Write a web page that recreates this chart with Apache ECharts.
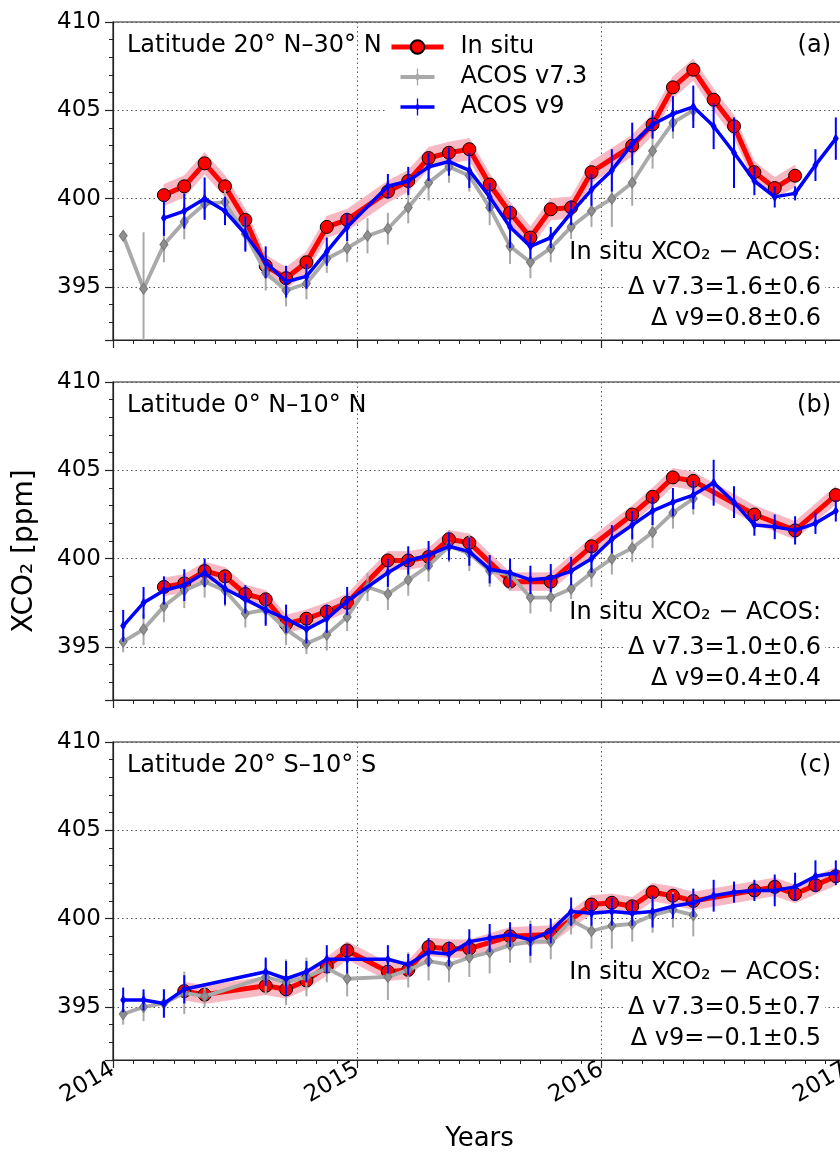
<!DOCTYPE html>
<html>
<head>
<meta charset="utf-8">
<script src="https://cdn.jsdelivr.net/npm/echarts/dist/echarts.min.js"></script>
<style>
  html, body { margin: 0; background: #fff; }
  #chart { width: 840px; height: 1152px; }
</style>
</head>
<body>
<div id="chart"></div>
<script>
// month index: 0 = Jan 2014, points sit in the middle of the month
var panelTitles = ['Latitude 20° N–30° N', 'Latitude 0° N–10° N', 'Latitude 20° S–10° S'];
var panelTags = ['(a)', '(b)', '(c)'];
var deltaV73 = ['Δ v7.3=1.6±0.6', 'Δ v7.3=1.0±0.6', 'Δ v7.3=0.5±0.7'];
var deltaV9 = ['Δ v9=0.8±0.6', 'Δ v9=0.4±0.4', 'Δ v9=−0.1±0.5'];
var bandHalf = [0.6, 0.5, 0.5];
var yearTicks = [2014, 2015, 2016, 2017];

// (a) 20N-30N
var insituMonthsA = [2, 3, 4, 5, 6, 7, 8, 9, 10, 11, 13, 14, 15, 16, 17, 18, 19, 20, 21, 22, 23, 25, 26, 27, 28, 29, 30, 31, 32, 33];
var insituA = [400.2, 400.7, 402.0, 400.7, 398.8, 396.2, 395.5, 396.4, 398.4, 398.8,
  400.4, 401.0, 402.3, 402.6, 402.8, 400.8, 399.2, 397.8, 399.4, 399.5, 401.5,
  403.0, 404.2, 406.3, 407.3, 405.6, 404.1, 401.5, 400.6, 401.3];
var v73MonthsA = [0, 1, 2, 3, 4, 5, 6, 7, 8, 9, 10, 11, 12, 13, 14, 15, 16, 17, 18, 19, 20, 21, 22, 23, 24, 25, 26, 27, 28];
var v73A = [397.9, 394.9, 397.4, 398.7, 399.7, 399.8, 398.0, 395.8, 394.8, 395.2, 396.6, 397.2,
  397.9, 398.3, 399.5, 400.9, 401.8, 401.3, 399.5, 397.3, 396.4, 397.2, 398.4, 399.3,
  400.0, 400.9, 402.7, 404.3, 405.0];
var v73ErrA = [0, 3.2, 1.0, 1.0, 0.8, 0.7, 0.9, 1.0, 0.9, 0.9, 0.8, 0.8,
  1.0, 0.9, 0.9, 1.0, 0.9, 0.9, 1.0, 1.0, 0.9, 0.8, 0.8, 0.9,
  1.6, 1.3, 1.0, 0.9, 0.6];
var v9MonthsA = [2, 3, 4, 5, 6, 7, 8, 9, 10, 11, 13, 14, 15, 16, 17, 18, 19, 20, 21, 22, 23,
  24, 25, 26, 27, 28, 29, 30, 31, 32, 33, 34, 35];
var v9A = [398.9, 399.3, 400.0, 399.3, 398.0, 396.4, 395.3, 395.6, 397.0, 398.4,
  400.7, 401.0, 401.8, 402.1, 401.6, 400.1, 398.4, 397.3, 397.8, 399.2, 400.5,
  401.6, 403.1, 404.2, 404.8, 405.2, 404.1, 402.6, 401.0, 400.1, 400.3, 401.9, 403.4];
var v9ErrA = [1.0, 1.0, 1.2, 0.8, 1.0, 0.9, 0.9, 0.7, 0.8, 0.8,
  0.7, 0.8, 0.8, 0.8, 1.0, 0.8, 1.2, 0.7, 0.6, 0.7, 0.9,
  1.2, 1.2, 0.8, 1.0, 1.2, 1.3, 2.0, 0.8, 0.6, 0.4, 0.9, 1.2];

// (b) 0N-10N
var insituMonthsB = [2, 3, 4, 5, 6, 7, 8, 9, 10, 11, 13, 14, 15, 16, 17, 19, 21, 23, 25, 26, 27, 28, 31, 33, 35];
var insituB = [398.4, 398.6, 399.3, 399.0, 398.0, 397.7, 396.3, 396.6, 397.0, 397.5,
  399.9, 399.9, 400.1, 401.1, 400.9, 398.7, 398.7, 400.7,
  402.5, 403.5, 404.6, 404.4, 402.5, 401.6, 403.6];
var v73MonthsB = [0, 1, 2, 3, 4, 5, 6, 7, 8, 9, 10, 11, 12, 13, 14, 15, 16, 17, 18, 19, 20, 21, 22, 23, 24, 25, 26, 27, 28];
var v73B = [395.3, 396.0, 397.3, 398.2, 398.7, 398.2, 396.9, 397.1, 396.0, 395.2, 395.7, 396.7,
  398.4, 398.0, 398.8, 399.6, 400.7, 400.3, 399.3, 399.1, 397.8, 397.8, 398.3, 399.2,
  400.0, 400.6, 401.5, 402.6, 403.4];
var v73ErrB = [0.6, 0.9, 0.9, 1.0, 0.9, 0.9, 0.8, 0.8, 0.9, 0.6, 0.9, 0.8,
  0.8, 0.9, 0.9, 0.9, 0.9, 1.0, 0.9, 0.9, 0.9, 0.8, 0.8, 0.8,
  0.9, 0.8, 0.9, 0.9, 0.9];
var v9MonthsB = [0, 1, 2, 3, 4, 5, 6, 7, 8, 9, 10, 11, 13, 14, 15, 16, 17, 18, 19, 20, 21, 22, 23,
  24, 25, 26, 27, 28, 29, 30, 31, 32, 33, 34, 35];
var v9B = [396.2, 397.5, 398.2, 398.5, 399.2, 398.3, 397.7, 397.1, 396.6, 396.0, 396.6, 397.6,
  399.2, 399.9, 400.2, 400.7, 400.4, 399.4, 399.2, 398.8, 398.9, 399.3, 400.0,
  401.1, 401.9, 402.7, 403.2, 403.6, 404.3, 403.2, 401.9, 401.8, 401.6, 402.0, 402.7];
var v9ErrB = [0.9, 0.9, 0.8, 0.9, 0.8, 0.9, 0.8, 0.9, 0.8, 0.8, 0.8, 0.8,
  0.8, 0.8, 0.8, 0.8, 0.8, 0.8, 0.8, 0.8, 0.8, 0.8, 0.8,
  0.8, 0.8, 0.8, 0.8, 0.8, 1.3, 0.9, 0.6, 0.7, 0.8, 0.6, 0.6];

// (c) 20S-10S
var insituMonthsC = [3, 4, 7, 8, 9, 10, 11, 13, 14, 15, 16, 17, 19, 21, 23, 24, 25, 26, 27, 28, 31, 32, 33, 34, 35];
var insituC = [395.9, 395.7, 396.2, 396.0, 396.5, 397.3, 398.2,
  397.0, 397.1, 398.4, 398.3, 398.3, 399.0, 399.1, 400.8,
  400.9, 400.7, 401.5, 401.3, 401.0, 401.6, 401.8, 401.4, 401.9, 402.4];
var v73MonthsC = [0, 1, 2, 3, 4, 7, 8, 9, 10, 11, 13, 14, 15, 16, 17, 18, 19, 20, 21, 22, 23, 24, 25, 26, 27, 28];
var v73C = [394.6, 395.0, 395.2, 395.8, 395.6, 396.7, 396.4, 396.7, 397.2, 396.6,
  396.7, 397.1, 397.6, 397.4, 397.8, 398.1, 398.5, 398.7, 398.7, 399.9, 399.3,
  399.6, 399.7, 400.2, 400.5, 400.2];
var v73ErrC = [0.6, 0.8, 0.8, 1.2, 0.6, 1.0, 1.3, 1.1, 0.8, 1.0,
  1.3, 1.0, 1.1, 1.0, 1.1, 1.2, 1.0, 1.2, 1.0, 0.8, 1.0,
  1.3, 1.0, 1.0, 1.0, 1.2];
var v9MonthsC = [0, 1, 2, 3, 7, 8, 9, 10, 11, 13, 14, 15, 16, 17, 18, 19, 20, 21, 22, 23,
  24, 25, 26, 27, 28, 29, 30, 31, 32, 33, 34, 35];
var v9C = [395.4, 395.4, 395.2, 396.0, 397.0, 396.6, 397.0, 397.7, 397.7,
  397.7, 397.4, 398.1, 398.0, 398.7, 398.9, 399.1, 398.8, 399.3, 400.4, 400.3,
  400.4, 400.3, 400.4, 400.7, 400.9, 401.3, 401.5, 401.6, 401.6, 401.8, 402.4, 402.6];
var v9ErrC = [0.7, 0.6, 0.8, 0.8, 0.8, 1.0, 0.6, 0.8, 0.8,
  0.8, 0.6, 0.8, 0.7, 0.7, 0.8, 0.7, 0.9, 0.7, 0.8, 0.7,
  0.8, 0.7, 0.9, 0.7, 0.8, 0.9, 0.6, 0.6, 0.9, 0.8, 0.9, 0.7];

var panels = [
  {insM: insituMonthsA, ins: insituA, gM: v73MonthsA, g: v73A, gE: v73ErrA, bM: v9MonthsA, b: v9A, bE: v9ErrA},
  {insM: insituMonthsB, ins: insituB, gM: v73MonthsB, g: v73B, gE: v73ErrB, bM: v9MonthsB, b: v9B, bE: v9ErrB},
  {insM: insituMonthsC, ins: insituC, gM: v73MonthsC, g: v73C, gE: v73ErrC, bM: v9MonthsC, b: v9C, bE: v9ErrC}
];

var FONT = 'DejaVu Sans';
var gridTops = [22, 382, 742];
var GRID_H = 318;
var GRID_L = 113;
var GRID_W = 733;
var RED = '#ff0000', GRAY = '#a9a9a9', BLUE = '#0000ff', PINK = '#f8b8c3';

function yr(m) { return 2014 + (m + 0.5) / 12; }
function pts(months, vals) {
  return months.map(function (m, i) { return [yr(m), vals[i]]; });
}
function errs(months, vals, e) {
  return months.map(function (m, i) { return [yr(m), vals[i] - e[i], vals[i] + e[i]]; });
}
// one band segment per pair of neighbouring in situ points
function bandSegs(months, vals, h) {
  var out = [];
  for (var i = 0; i < months.length - 1; i++) {
    out.push([yr(months[i]), vals[i] - h, vals[i] + h, yr(months[i + 1]), vals[i + 1] - h, vals[i + 1] + h]);
  }
  return out;
}
function bandRender(params, api) {
  var pts4 = [
    api.coord([api.value(0), api.value(1)]),
    api.coord([api.value(3), api.value(4)]),
    api.coord([api.value(3), api.value(5)]),
    api.coord([api.value(0), api.value(2)])
  ];
  return {type: 'polygon', shape: {points: pts4}, style: {fill: PINK, stroke: PINK, lineWidth: 0.8}};
}
function errRender(color) {
  return function (params, api) {
    var lo = api.coord([api.value(0), api.value(1)]);
    var hi = api.coord([api.value(0), api.value(2)]);
    return {
      type: 'line',
      shape: {x1: lo[0], y1: lo[1], x2: hi[0], y2: hi[1]},
      style: {stroke: color, lineWidth: 2}
    };
  };
}

var grids = [], xAxes = [], yAxes = [], series = [], graphics = [];
var dotted = {color: '#555', width: 1, type: [1.5, 3]};

panels.forEach(function (p, i) {
  var last = i === panels.length - 1;
  grids.push({left: GRID_L, top: gridTops[i], width: GRID_W, height: GRID_H, outerBoundsMode: 'none',
    containLabel: false, show: true, borderColor: '#222', borderWidth: 1.2, backgroundColor: 'transparent'});
  xAxes.push({
    type: 'value', gridIndex: i, min: yearTicks[0], max: yearTicks[yearTicks.length - 1], interval: 1,
    axisLine: {lineStyle: {color: '#222', width: 1.2}},
    axisTick: {length: 8, lineStyle: {color: '#222', width: 1.2}},
    minorTick: {show: true, splitNumber: 12, length: 4, lineStyle: {color: '#222', width: 1}},
    splitLine: {show: true, lineStyle: dotted},
    axisLabel: {show: last, rotate: 30, margin: 8, fontSize: 23, fontFamily: FONT, color: '#000',
      formatter: function (v) { return String(Math.round(v)); }},
    name: last ? 'Years' : '', nameLocation: 'middle', nameGap: 66,
    nameTextStyle: {fontSize: 26, fontFamily: FONT, color: '#000'}
  });
  yAxes.push({
    type: 'value', gridIndex: i, min: 392, max: 410, splitNumber: 4,
    axisLine: {show: true, lineStyle: {color: '#222', width: 1.2}},
    axisTick: {show: true, length: 8, lineStyle: {color: '#222', width: 1.2}},
    minorTick: {show: true, splitNumber: 5, length: 4, lineStyle: {color: '#222', width: 1}},
    splitLine: {show: true, lineStyle: dotted},
    axisLabel: {showMinLabel: false, margin: 12, fontSize: 23, fontFamily: FONT, color: '#000'}
  });

  series.push({
    type: 'custom', xAxisIndex: i, yAxisIndex: i, clip: true, silent: true,
    encode: {x: [0, 3], y: [1, 2, 4, 5]}, data: bandSegs(p.insM, p.ins, bandHalf[i]),
    renderItem: bandRender, z: 1
  });
  series.push({
    name: 'In situ', type: 'line', xAxisIndex: i, yAxisIndex: i,
    data: pts(p.insM, p.ins), symbol: 'circle', symbolSize: 13,
    lineStyle: {color: RED, width: 5}, itemStyle: {color: RED, borderColor: '#000', borderWidth: 1}, z: 3
  });
  series.push({
    type: 'custom', xAxisIndex: i, yAxisIndex: i, clip: true, silent: true,
    encode: {x: 0, y: [1, 2]}, data: errs(p.gM, p.g, p.gE), renderItem: errRender(GRAY), z: 4
  });
  series.push({
    name: 'ACOS v7.3', type: 'line', xAxisIndex: i, yAxisIndex: i,
    data: pts(p.gM, p.g), symbol: 'diamond', symbolSize: [8, 11],
    lineStyle: {color: GRAY, width: 3.8}, itemStyle: {color: '#8f8f8f', borderColor: '#777', borderWidth: 1}, z: 5
  });
  series.push({
    type: 'custom', xAxisIndex: i, yAxisIndex: i, clip: true, silent: true,
    encode: {x: 0, y: [1, 2]}, data: errs(p.bM, p.b, p.bE), renderItem: errRender(BLUE), z: 6
  });
  series.push({
    name: 'ACOS v9', type: 'line', xAxisIndex: i, yAxisIndex: i,
    data: pts(p.bM, p.b), symbol: 'diamond', symbolSize: [6, 10],
    lineStyle: {color: BLUE, width: 3.5}, itemStyle: {color: BLUE}, z: 7
  });

  var top = gridTops[i];
  var txt = {fontSize: 24, fontFamily: FONT, fill: '#000'};
  graphics.push({type: 'text', x: 127, y: top + 24, z: 100,
    style: Object.assign({text: panelTitles[i], align: 'left', verticalAlign: 'middle'}, txt)});
  graphics.push({type: 'text', x: 831, y: top + 24, z: 100,
    style: Object.assign({text: panelTags[i], align: 'right', verticalAlign: 'middle'}, txt)});
  var notes = ['In situ XCO₂ − ACOS:', deltaV73[i], deltaV9[i]];
  var rel = [231, 266, 297];
  notes.forEach(function (t, k) {
    graphics.push({type: 'text', x: 825, y: top + rel[k], z: 100,
      style: Object.assign({text: t, align: 'right', verticalAlign: 'middle',
        backgroundColor: '#fff', padding: [2, 4]}, txt)});
  });
});

graphics.push({type: 'text', x: 25, y: 551, rotation: Math.PI / 2, z: 100,
  style: {text: 'XCO₂ [ppm]', fontSize: 28, fontFamily: FONT, fill: '#000', align: 'center', verticalAlign: 'middle'}});

var chart = echarts.init(document.getElementById('chart'));
chart.setOption({
  animation: false,
  backgroundColor: '#fff',
  grid: grids,
  xAxis: xAxes,
  yAxis: yAxes,
  legend: {
    left: 385, top: 31, orient: 'vertical', itemWidth: 52, itemHeight: 17, itemGap: 6,
    backgroundColor: '#fff', padding: [4, 8, 4, 4],
    lineStyle: {width: 5},
    textStyle: {fontSize: 24, fontFamily: FONT, color: '#000', padding: [0, 0, 0, 12]},
    data: [
      {name: 'In situ'},
      {name: 'ACOS v7.3', icon: 'path://M0,10L52,10L52,16L0,16Z M25,0L27,0L27,26L25,26Z M26,6.5L31,13L26,19.5L21,13Z',
        itemStyle: {color: GRAY, borderWidth: 0}},
      {name: 'ACOS v9', icon: 'path://M0,10.3L52,10.3L52,15.7L0,15.7Z M25,0L27,0L27,26L25,26Z M26,6.5L29.5,13L26,19.5L22.5,13Z',
        itemStyle: {color: BLUE, borderWidth: 0}}
    ]
  },
  graphic: graphics,
  series: series
});
</script>
</body>
</html>
